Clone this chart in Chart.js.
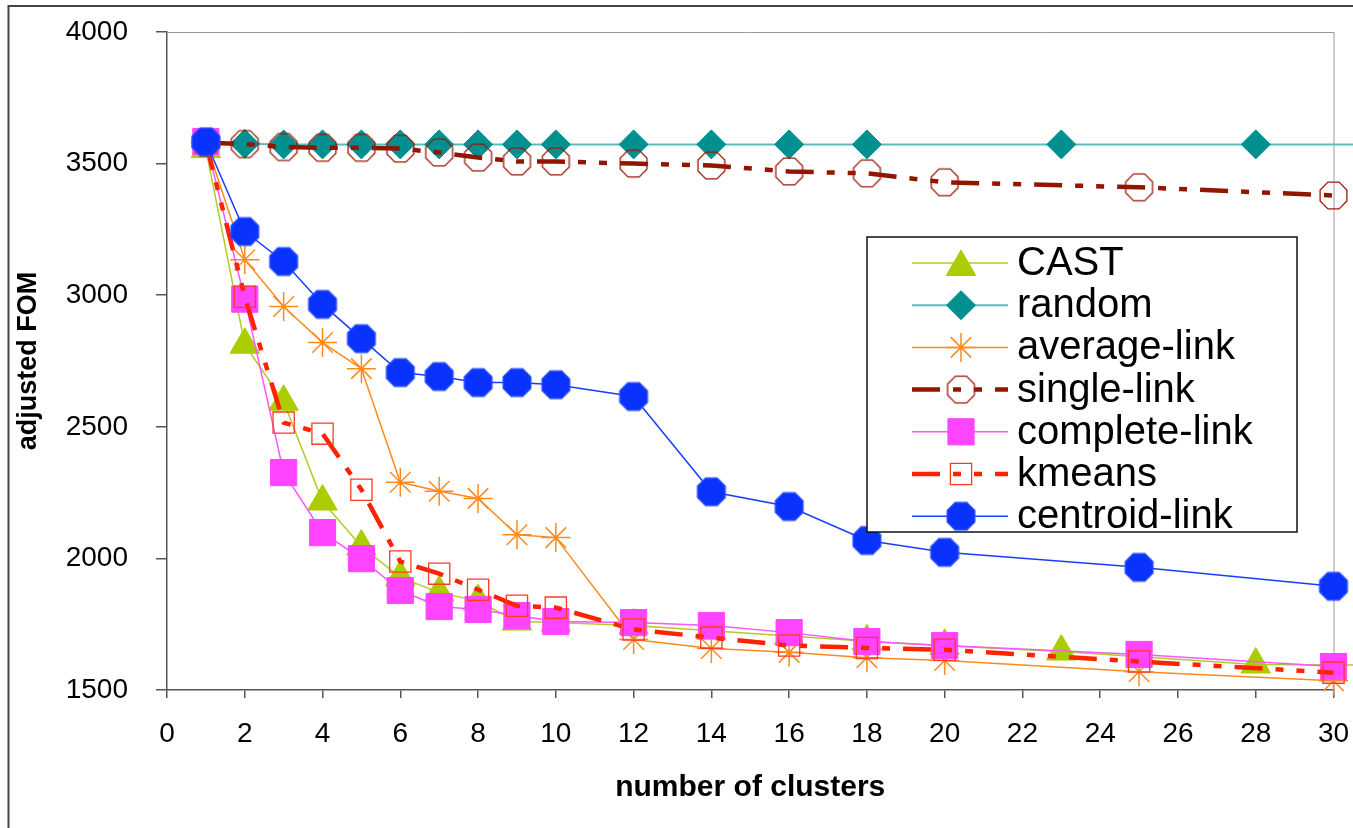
<!DOCTYPE html>
<html>
<head>
<meta charset="utf-8">
<script src="https://cdn.jsdelivr.net/npm/chart.js@4.4.1/dist/chart.umd.min.js"></script>
<style>
  html, body { margin: 0; padding: 0; background: #fff; overflow: hidden; }
  #wrap { position: relative; width: 1353px; height: 828px; }
</style>
</head>
<body>
<div id="wrap"><canvas id="fomChart" width="1353" height="828"></canvas></div>
<script>
// values (number of clusters -> adjusted FOM)
const castX = [1, 2, 3, 4, 5, 6, 7, 8, 9, 10, 12, 14, 16, 18, 20, 23, 28, 35];
const castY = [3555, 2812, 2595, 2216, 2045, 1928, 1870, 1838, 1760, 1756, 1745, 1725, 1705, 1685, 1668, 1646, 1597, 1592];

const randomX = [1, 2, 3, 4, 5, 6, 7, 8, 9, 10, 12, 14, 16, 18, 23, 28, 35];
const randomY = [3580, 3575, 3573, 3573, 3573, 3573, 3573, 3573, 3573, 3573, 3573, 3573, 3573, 3573, 3573, 3573, 3573];

const avgX = [1, 2, 3, 4, 5, 6, 7, 8, 9, 10, 12, 14, 16, 18, 20, 25, 30, 35];
const avgY = [3580, 3135, 2957, 2820, 2721, 2289, 2255, 2228, 2090, 2079, 1692, 1658, 1643, 1623, 1612, 1569, 1535, 1515];

const singleX = [1, 2, 3, 4, 5, 6, 7, 8, 9, 10, 12, 14, 16, 18, 20, 25, 30, 35];
const singleY = [3580, 3574, 3563, 3560, 3560, 3557, 3542, 3523, 3508, 3508, 3500, 3493, 3470, 3463, 3429, 3410, 3379, 3255];

const completeX = [1, 2, 3, 4, 5, 6, 7, 8, 9, 10, 12, 14, 16, 18, 20, 25, 30, 35];
const completeY = [3584, 2985, 2326, 2098, 1999, 1878, 1817, 1806, 1783, 1760, 1756, 1745, 1718, 1684, 1669, 1635, 1589, 1500];

const kmeansX = [1, 2, 3, 4, 5, 6, 7, 8, 9, 10, 12, 14, 16, 18, 20, 25, 30, 35];
const kmeansY = [3580, 2994, 2516, 2474, 2261, 1988, 1942, 1881, 1820, 1813, 1730, 1699, 1669, 1660, 1653, 1608, 1566, 1510];

const centroidX = [1, 2, 3, 4, 5, 6, 7, 8, 9, 10, 12, 14, 16, 18, 20, 25, 30, 35];
const centroidY = [3583, 3242, 3128, 2965, 2835, 2706, 2691, 2668, 2668, 2660, 2615, 2253, 2197, 2068, 2023, 1966, 1894, 1524];

const yTicks = [1500, 2000, 2500, 3000, 3500, 4000];
const xTicks = [0, 2, 4, 6, 8, 10, 12, 14, 16, 18, 20, 22, 24, 26, 28, 30];

function pts(xs, ys) {
  return xs.map((x, i) => ({ x: x, y: ys[i] }));
}

// octagon marker drawn once on a small canvas
function octagon(r, fill, stroke) {
  const c = document.createElement('canvas');
  const s = Math.ceil(2 * r + 4);
  c.width = s; c.height = s;
  const g = c.getContext('2d');
  g.beginPath();
  for (let k = 0; k < 8; k++) {
    const a = Math.PI / 8 + k * Math.PI / 4;
    const px = s / 2 + r * Math.cos(a), py = s / 2 + r * Math.sin(a);
    if (k === 0) g.moveTo(px, py); else g.lineTo(px, py);
  }
  g.closePath();
  if (fill) { g.fillStyle = fill; g.fill(); }
  if (stroke) { g.strokeStyle = stroke; g.lineWidth = 1.3; g.stroke(); }
  return c;
}

const hollowOct = octagon(14.5, null, '#9a1a08');
const blueOct = octagon(15, '#0a32ff', '#2a4cff');
const dashDotDot = [28, 13, 8, 13, 8, 13];
const FONT = '"Liberation Sans", Arial, sans-serif';

const datasets = [
  { label: 'CAST', data: pts(castX, castY), borderColor: '#b0cc22', borderWidth: 1.5,
    pointStyle: 'triangle', pointRadius: 17, pointBackgroundColor: '#aacc00', pointBorderColor: '#aacc00', pointBorderWidth: 1, order: 6 },
  { label: 'random', data: pts(randomX, randomY), borderColor: '#5cbcbc', borderWidth: 2,
    pointStyle: 'rectRot', pointRadius: 14.5, pointBackgroundColor: '#009090', pointBorderColor: '#009090', pointBorderWidth: 1, order: 5 },
  { label: 'average-link', data: pts(avgX, avgY), borderColor: '#ff8a1c', borderWidth: 1.5,
    pointStyle: 'star', pointRadius: 14.5, pointBackgroundColor: 'rgba(0,0,0,0)', pointBorderColor: '#ff8a1c', pointBorderWidth: 1.5, order: 4 },
  { label: 'single-link', data: pts(singleX, singleY), borderColor: '#921500', borderWidth: 4.5, borderDash: dashDotDot,
    pointStyle: hollowOct, pointRadius: 14, order: 3 },
  { label: 'complete-link', data: pts(completeX, completeY), borderColor: '#ff55ff', borderWidth: 1.5,
    pointStyle: 'rect', pointRadius: 18.5, pointBackgroundColor: '#ff44ff', pointBorderColor: '#ff44ff', pointBorderWidth: 1, order: 2 },
  { label: 'kmeans', data: pts(kmeansX, kmeansY), borderColor: '#ff2200', borderWidth: 4.5, borderDash: dashDotDot,
    pointStyle: 'rect', pointRadius: 15, pointBackgroundColor: 'rgba(0,0,0,0)', pointBorderColor: '#ff3a20', pointBorderWidth: 1.3, order: 1 },
  { label: 'centroid-link', data: pts(centroidX, centroidY), borderColor: '#1a3cff', borderWidth: 1.5,
    pointStyle: blueOct, pointRadius: 15, order: 0 }
];

datasets.forEach(d => { d.clip = false; d.tension = 0; d.fill = false; d.pointHoverRadius = d.pointRadius; });

// frame lines, plot border and the boxed legend
const decorations = {
  id: 'decorations',
  beforeDatasetsDraw(chart) {
    const { ctx, chartArea: a } = chart;
    ctx.save();
    ctx.strokeStyle = '#999';
    ctx.lineWidth = 1;
    ctx.beginPath();
    ctx.moveTo(a.left, a.top + 0.5);
    ctx.lineTo(a.right + 0.5, a.top + 0.5);
    ctx.lineTo(a.right + 0.5, a.bottom);
    ctx.stroke();
    ctx.strokeStyle = '#444';
    ctx.lineWidth = 2;
    ctx.beginPath();
    ctx.moveTo(8.5, 900);
    ctx.lineTo(8.5, 6);
    ctx.lineTo(1400, 6);
    ctx.stroke();
    ctx.restore();
  },
  afterDraw(chart) {
    const ctx = chart.ctx;
    const box = { l: 867, t: 237, r: 1297, b: 532 };
    ctx.save();
    ctx.fillStyle = '#fff';
    ctx.fillRect(box.l, box.t, box.r - box.l, box.b - box.t);
    ctx.strokeStyle = '#111';
    ctx.lineWidth = 1.5;
    ctx.strokeRect(box.l, box.t, box.r - box.l, box.b - box.t);
    ctx.font = '40px ' + FONT;
    ctx.textBaseline = 'middle';
    ctx.textAlign = 'left';
    chart.data.datasets.forEach((d, i) => {
      const y = 263 + i * 42.2;
      ctx.save();
      ctx.strokeStyle = d.borderColor;
      ctx.lineWidth = d.borderWidth;
      ctx.setLineDash(d.borderDash || []);
      ctx.beginPath();
      ctx.moveTo(912, y);
      ctx.lineTo(1008, y);
      ctx.stroke();
      ctx.setLineDash([]);
      ctx.fillStyle = d.pointBackgroundColor || '#000';
      ctx.strokeStyle = d.pointBorderColor || d.borderColor;
      ctx.lineWidth = d.pointBorderWidth || 1;
      Chart.helpers.drawPoint(ctx, { pointStyle: d.pointStyle, radius: d.pointRadius, borderWidth: d.pointBorderWidth || 1, rotation: 0 }, 961, y + (d.pointStyle === 'triangle' ? 4 : 0));
      ctx.restore();
      ctx.fillStyle = '#000';
      ctx.fillText(d.label, 1017, y + 1);
    });
    ctx.restore();
  }
};

new Chart(document.getElementById('fomChart'), {
  type: 'line',
  data: { datasets: datasets },
  plugins: [decorations],
  options: {
    responsive: false,
    animation: false,
    events: [],
    layout: { padding: { top: 32, right: 18, left: 0, bottom: 0 } },
    plugins: { legend: { display: false }, tooltip: { enabled: false } },
    scales: {
      x: {
        type: 'linear',
        min: 0,
        max: 30,
        afterFit: s => { s.height = 138; s.paddingLeft = 0; s.paddingRight = 0; },
        afterBuildTicks: s => { s.ticks = xTicks.map(v => ({ value: v })); },
        ticks: { color: '#000', padding: 19, font: { family: FONT, size: 28 }, callback: v => String(v) },
        grid: { drawOnChartArea: false, drawTicks: true, tickLength: 8, color: '#555', lineWidth: 1.5 },
        border: { display: true, color: '#555', width: 1.5 },
        title: { display: true, text: 'number of clusters', color: '#000', padding: { top: 0, bottom: 22 },
          font: { family: FONT, size: 30, weight: 'bold' } }
      },
      y: {
        min: 1500,
        max: 4000,
        afterFit: s => { s.width = 167; s.paddingTop = 0; s.paddingBottom = 0; },
        afterBuildTicks: s => { s.ticks = yTicks.map(v => ({ value: v })); },
        ticks: { color: '#000', padding: 28, font: { family: FONT, size: 28 }, callback: v => String(v) },
        grid: { drawOnChartArea: false, drawTicks: true, tickLength: 11, color: '#555', lineWidth: 1.5 },
        border: { display: true, color: '#555', width: 1.5 },
        title: { display: true, text: 'adjusted FOM', color: '#000', padding: { top: 12, bottom: 0 },
          font: { family: FONT, size: 27, weight: 'bold' } }
      }
    }
  }
});
</script>
</body>
</html>
